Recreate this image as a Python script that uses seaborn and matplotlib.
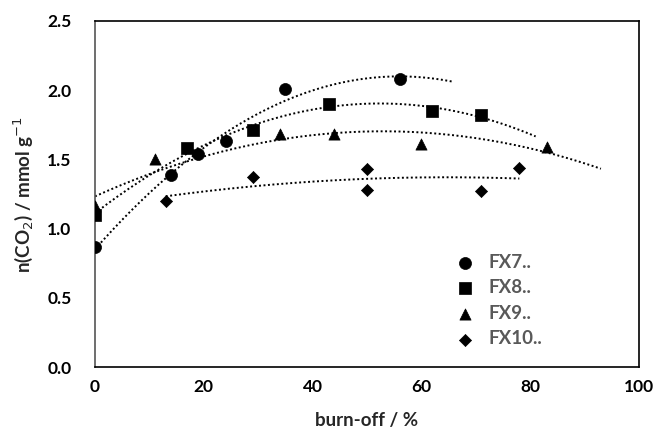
import numpy as np
import pandas as pd
import matplotlib
matplotlib.use("Agg")
import matplotlib.pyplot as plt
import seaborn as sns

# burn-off (%) and CO2 uptake (mmol/g) for each sample
fx7_x = [0, 14, 19, 24, 35, 56]
fx7_y = [0.87, 1.39, 1.54, 1.63, 2.01, 2.08]
fx8_x = [0, 17, 29, 43, 62, 71]
fx8_y = [1.10, 1.58, 1.71, 1.90, 1.85, 1.82]
fx9_x = [0, 11, 34, 44, 60, 83]
fx9_y = [1.16, 1.50, 1.68, 1.68, 1.61, 1.59]
fx10_x = [13, 29, 50, 50, 71, 78]
fx10_y = [1.20, 1.37, 1.43, 1.28, 1.27, 1.44]

samples = ["FX7..", "FX8..", "FX9..", "FX10.."]
# trendline extent (x start, x end) as drawn in the original
trend_range = {"FX7..": (0, 66), "FX8..": (0, 81), "FX9..": (0, 93), "FX10..": (13, 78)}
marker_of = {"FX7..": "o", "FX8..": "s", "FX9..": "^", "FX10..": "D"}
size_of = {"FX7..": 75, "FX8..": 70, "FX9..": 65, "FX10..": 38}

frames = []
for name, xs, ys in zip(samples, [fx7_x, fx8_x, fx9_x, fx10_x], [fx7_y, fx8_y, fx9_y, fx10_y]):
    frames.append(pd.DataFrame({"burn": xs, "co2": ys, "sample": name}))
df = pd.concat(frames, ignore_index=True)

sns.set_style("white")
plt.rcParams["font.family"] = ["Lato", "DejaVu Sans"]

fig = plt.figure(figsize=(6.57, 4.37), dpi=100)
ax = fig.add_axes([0.1446, 0.160, 0.828, 0.792])

# 2nd order polynomial trendlines (dotted)
for name in samples:
    sub = df[df["sample"] == name]
    coef = np.polyfit(sub["burn"], sub["co2"], 2)
    x0, x1 = trend_range[name]
    xx = np.linspace(x0, x1, 200)
    ax.plot(xx, np.polyval(coef, xx), color="black", linestyle=(0, (1, 1.3)), linewidth=1.4, zorder=1)

for name in samples:
    sub = df[df["sample"] == name]
    sns.scatterplot(data=sub, x="burn", y="co2", marker=marker_of[name], s=size_of[name],
                    color="black", edgecolor="black", linewidth=0.5, label=name, ax=ax, zorder=3)

ax.set_xlim(0, 100)
ax.set_ylim(0, 2.5)
ax.set_xticks(range(0, 101, 20))
ax.set_yticks(np.arange(0, 2.51, 0.5))
ax.set_yticklabels([f"{v:.1f}" for v in np.arange(0, 2.51, 0.5)])
ax.tick_params(axis="both", direction="out", length=5, width=1, labelsize=12.5, colors="black")
ax.tick_params(axis="y", length=0, pad=17)
for lab in ax.get_xticklabels() + ax.get_yticklabels():
    lab.set_fontweight("bold")
for sp in ax.spines.values():
    sp.set_color("black")
    sp.set_linewidth(1.2)
ax.spines["left"].set_color("#555555")

ax.set_xlabel("burn-off / %", fontsize=13.5, fontweight="bold", labelpad=12)
ax.set_ylabel("n(CO$_2$) / mmol g$^{-1}$", fontsize=13.5, fontweight="bold", labelpad=8)

leg = ax.legend(loc="lower right", bbox_to_anchor=(0.854, 0.008), frameon=False,
                fontsize=13.5, handletextpad=0.3, labelspacing=0.46, markerscale=1.0)
for t in leg.get_texts():
    t.set_color("#595959")
    t.set_fontweight("bold")

fig.savefig("out.png", dpi=100)
